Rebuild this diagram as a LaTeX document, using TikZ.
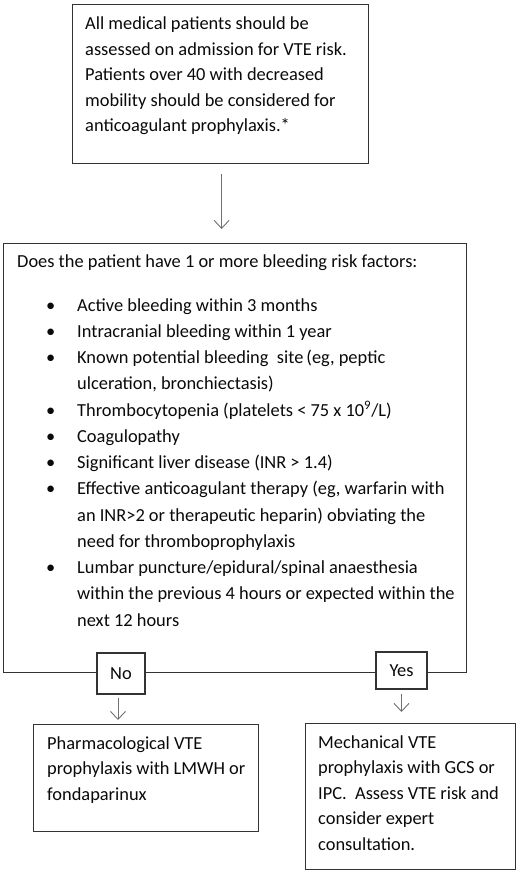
\documentclass[tikz,border=0pt]{standalone}
\usepackage{fontspec}
\setmainfont{Carlito}
\usetikzlibrary{arrows.meta}
\definecolor{boxc}{HTML}{333333}
\definecolor{txtc}{HTML}{0A0A0A}
\definecolor{arrc}{HTML}{707070}
\newcommand\bitem{\makebox[60pt][l]{\hspace*{29pt}\textbullet}}
\newcommand\cont{\hspace*{60pt}}
\begin{document}
\begin{tikzpicture}[x=1pt,y=-1pt,
  box/.style={draw=boxc, line width=1.2pt, inner sep=0pt, anchor=north west},
  txt/.style={align=left, inner sep=0pt, anchor=north west, text=txtc, font=\fontsize{18.4}{25.5}\selectfont},
  lbl/.style={draw=boxc, line width=1.2pt, inner sep=0pt, fill=white, text=txtc, font=\fontsize{18.4}{20}\selectfont},
  arr/.style={draw=arrc, line width=0.9pt, -{Straight Barb[length=8pt,width=15pt]}}]
\useasboundingbox[fill=white] (0,0) rectangle (520,874);
% boxes
\node[box, minimum width=296pt, minimum height=159pt] (b1) at (72,4) {};
\node[box, minimum width=463pt, minimum height=429pt] (big) at (3,243) {};
\node[box, minimum width=225pt, minimum height=107pt] (ph) at (33,724) {};
\node[box, minimum width=210pt, minimum height=146pt] (me) at (305,723) {};
% texts
\node[txt] (t1) at (85,17) {All medical patients should be\\assessed on admission for VTE risk.\\Patients over 40 with decreased\\mobility should be considered for\\anticoagulant prophylaxis.*};
\node[txt, font=\fontsize{18.4}{26.25}\selectfont] (t2) at (17,255) {Does the patient have 1 or more bleeding risk factors:\\[17pt]
\bitem Active bleeding within 3 months\\
\bitem Intracranial bleeding within 1 year\\
\bitem Known potential bleeding\ \ site\,(eg, peptic\\
\cont ulceration, bronchiectasis)\\
\bitem Thrombocytopenia (platelets < 75 x 10\textsuperscript{9}/L)\\
\bitem Coagulopathy\\
\bitem Significant liver disease (INR > 1.4)\\
\bitem Effective anticoagulant therapy (eg, warfarin with\\
\cont an INR>2 or therapeutic heparin) obviating the\\
\cont need for thromboprophylaxis\\
\bitem Lumbar puncture/epidural/spinal anaesthesia\\
\cont within the previous 4 hours or expected within the\\
\cont next 12 hours};
\node[txt] (t3) at (47,736.5) {Pharmacological VTE\\prophylaxis with LMWH or\\fondaparinux};
\node[txt] (t4) at (318,735.3) {Mechanical VTE\\prophylaxis with GCS or\\IPC.\ \ Assess VTE risk and\\consider expert\\consultation.};
% decision labels on the bottom edge
\node[lbl, minimum width=48pt, minimum height=41pt] (no) at (121,673.5) {No};
\node[lbl, minimum width=51pt, minimum height=37pt] (yes) at (401.5,670.5) {Yes};
% connectors
\draw[arr, shorten <=10pt, shorten >=14pt] ([xshift=1pt]b1.south) -- ([xshift=1pt]b1.south |- big.north);
\draw[arr, shorten <=3pt, shorten >=4pt] ([xshift=-3pt]no.south) -- ([xshift=-3pt]no.south |- ph.north);
\draw[arr, shorten <=4pt, shorten >=11pt] (yes.south) -- (yes.south |- me.north);
\end{tikzpicture}
\end{document}
